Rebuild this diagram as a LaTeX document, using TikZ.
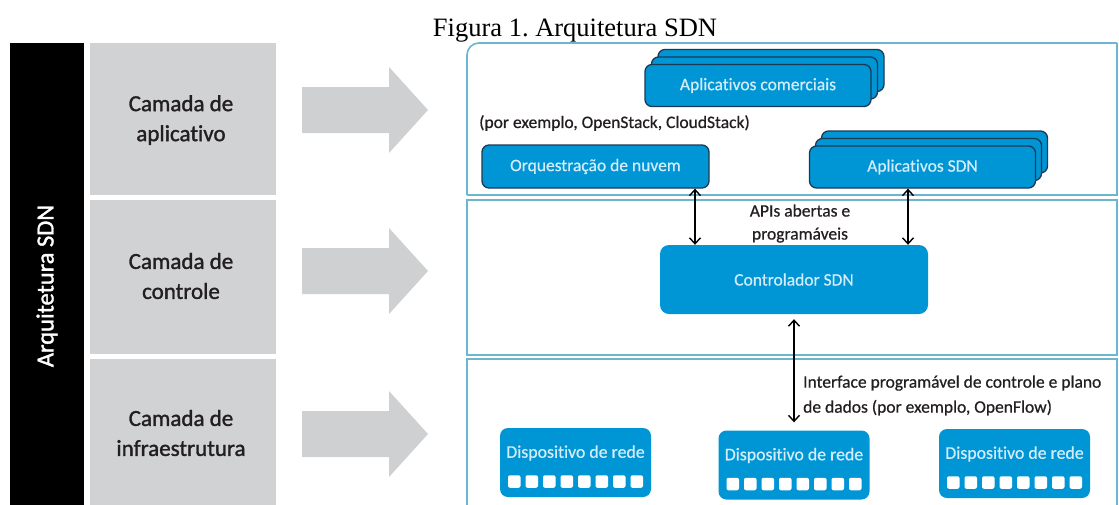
\documentclass[tikz,border=0pt]{standalone}
\usepackage{fontspec}
\setmainfont{Liberation Serif}
\newfontfamily\hpf[Ligatures={NoCommon,NoRare}, FakeBold=0.6]{Carlito}
\newfontfamily\hpfb[Ligatures={NoCommon,NoRare}, FakeBold=1.4]{Carlito}
\usetikzlibrary{arrows.meta}
\definecolor{hpblue}{HTML}{0096D6}
\definecolor{boxtext}{HTML}{D3ECF8}
\definecolor{navy}{HTML}{1D3A55}
\definecolor{layerline}{HTML}{6DB6D0}
\definecolor{panelgray}{HTML}{D1D2D4}
\definecolor{arrowgray}{HTML}{CFD0D2}
\definecolor{labeltext}{HTML}{231F20}
\frenchspacing
\begin{document}
\begin{tikzpicture}[x=1pt,y=-1pt,
  bluebox/.style={fill=hpblue, rounded corners=7pt, inner sep=0pt, text=boxtext,
    font=\hpf\fontsize{17.5}{21}\selectfont},
  appbox/.style={bluebox, draw=navy, line width=1.3pt, minimum width=226pt, minimum height=42pt},
  devbox/.style={fill=hpblue, rounded corners=8pt, inner sep=0pt, minimum width=151pt, minimum height=69pt},
  devtext/.style={text=boxtext, inner sep=0pt, font=\hpf\fontsize{17.8}{21}\selectfont},
  lbl/.style={text=labeltext, inner sep=0pt, font=\hpf\fontsize{17.5}{21}\selectfont},
  paneltext/.style={text=labeltext, inner sep=0pt, align=center, font=\hpfb\fontsize{23}{30}\selectfont},
  dblarrow/.style={{Straight Barb[length=6pt,width=11pt]}-{Straight Barb[length=6pt,width=11pt]}, line width=1.4pt, black},
  layer/.style={draw=layerline, line width=1.6pt},
  grayarrow/.style={fill=arrowgray},
  ]
\useasboundingbox (0,0) rectangle (1119,504);
\fill[white] (0,0) rectangle (1119,504);

% title
\node[anchor=base, inner sep=0pt, font=\fontsize{26.5}{30}\selectfont] (title) at (575,36.7) {Figura 1. Arquitetura SDN};

% black bar
\fill[black] (10,43) rectangle (84,510);
\node[rotate=90, text=white, inner sep=0pt, font=\hpfb\fontsize{24.5}{28}\selectfont] (sdn) at (47,286) {Arquitetura SDN};

% gray panels
\fill[panelgray] (90,43) rectangle (276,195);
\fill[panelgray] (90,200) rectangle (276,354);
\fill[panelgray] (90,359) rectangle (276,510);
\node[paneltext] (p1) at (181,120) {Camada de\\aplicativo};
\node[paneltext] (p2) at (181,276) {Camada de\\controle};
\node[paneltext] (p3) at (181,433) {Camada de\\infraestrutura};

% gray arrows
\foreach \c in {110,271,434}{
  \fill[grayarrow] (302,\c-23) -- (389,\c-23) -- (389,\c-43) -- (428,\c) -- (389,\c+43) -- (389,\c+23) -- (302,\c+23) -- cycle;
}

% layer boxes
\draw[layer, rounded corners=12pt] (1117,43) -- (467,43) -- (467,195);
\draw[layer] (467,195) -- (1117,195) -- (1117,43);
\draw[layer] (467,200) rectangle (1117,355);
\draw[layer] (467,512) -- (467,359) -- (1117,359) -- (1117,512);

% application layer
\node[appbox] (com3) at (771,70.5) {};
\node[appbox] (com2) at (764.5,78) {};
\node[appbox] (com) at (758,85.5) {Aplicativos comerciais};
\node[lbl, anchor=west] (ex) at (479,123) {(por exemplo, OpenStack, CloudStack)};
\node[appbox, minimum width=227pt, minimum height=43pt] (orq) at (595.5,166.5) {Orquestração de nuvem};
\node[appbox] (app3) at (934.5,152) {};
\node[appbox] (app2) at (928.5,159.5) {};
\node[appbox] (app) at (922.5,167) {Aplicativos SDN};

% control layer
\node[bluebox, rounded corners=9pt, minimum width=268pt, minimum height=69pt] (ctrl) at (794,279.5) {Controlador SDN};
\node[lbl, align=center, font=\hpf\fontsize{17.5}{23}\selectfont] (api) at (800,223.5) {APIs abertas e\\programáveis};
\coordinate (a1) at (695,0);
\coordinate (a2) at (908,0);
\draw[dblarrow] (a1 |- orq.south) -- (a1 |- ctrl.north);
\draw[dblarrow] (a2 |- app.south) -- (a2 |- ctrl.north);

% infrastructure layer
\node[devbox] (d1) at (575.5,462.5) {};
\node[devbox] (d2) at (794,465) {};
\node[devbox] (d3) at (1014.5,463.5) {};
\node[devtext, yshift=9.5pt] (d1t) at (d1.center) {Dispositivo de rede};
\node[devtext, yshift=9.5pt] (d2t) at (d2.center) {Dispositivo de rede};
\node[devtext, yshift=9.5pt] (d3t) at (d3.center) {Dispositivo de rede};
\foreach \cx/\cy in {575.5/462.5, 794/465, 1014.5/463.5}{
  \foreach \i in {0,...,7}{
    \fill[white, rounded corners=2pt] (\cx-67.5+\i*17.5,\cy+12.75) rectangle (\cx-55+\i*17.5,\cy+25.25);
  }
}
\draw[dblarrow, shorten <=5pt, shorten >=8pt] (ctrl.south) -- (d2.north);
\node[lbl, anchor=west, align=left, font=\hpf\fontsize{17.5}{25}\selectfont] (iface) at (803,395.5) {Interface programável de controle e plano\\de dados (por exemplo, OpenFlow)};
\end{tikzpicture}
\end{document}
